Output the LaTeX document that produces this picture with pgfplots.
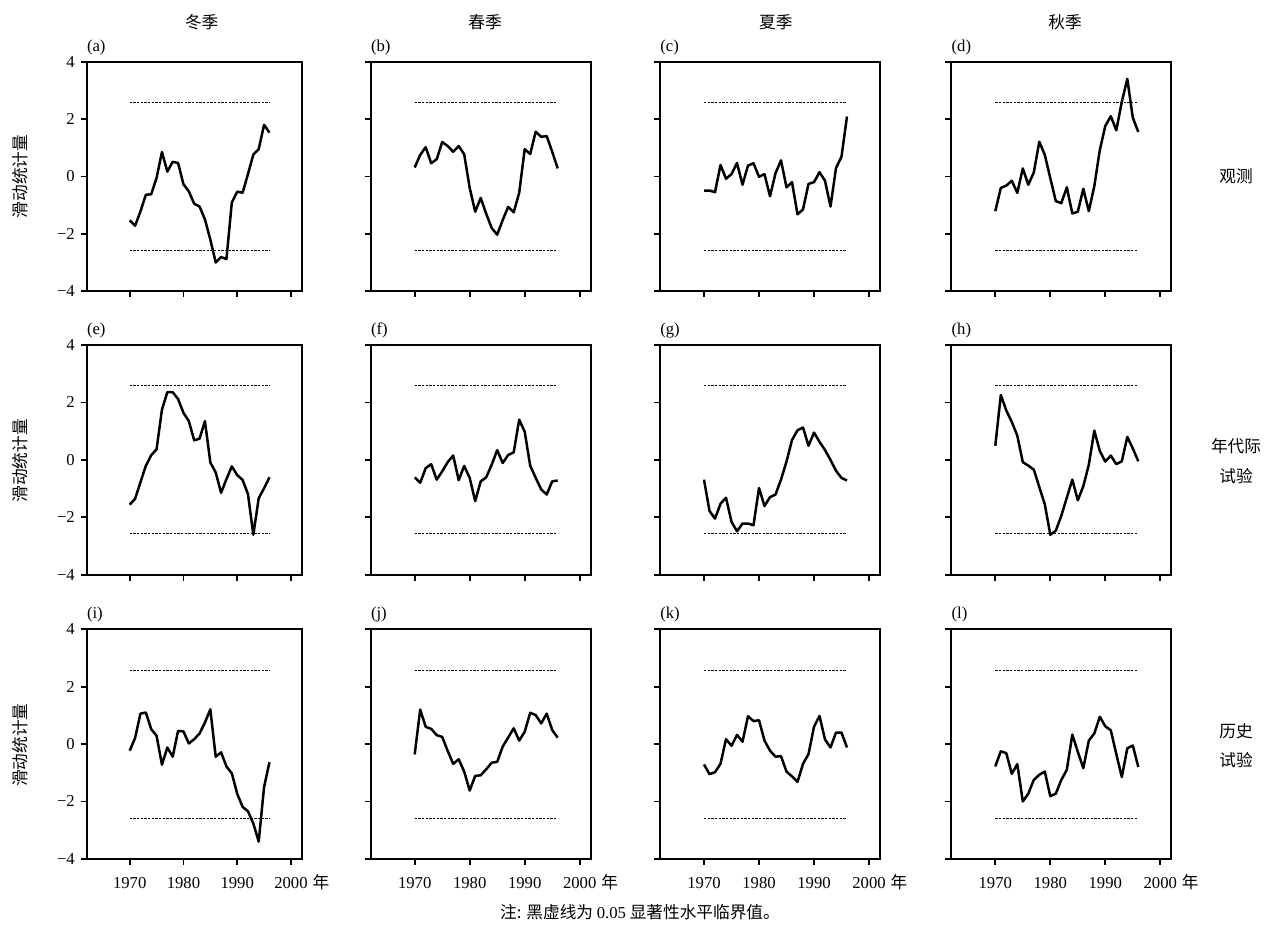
\documentclass[border=0pt]{standalone}
\usepackage{fontspec}
\setmainfont{Liberation Serif}
\newfontfamily\cjk{Noto Sans CJK SC}
\usepackage{pgfplots}
\usepackage{pgfplotstable}
\pgfplotsset{compat=1.18}

\pgfplotstableread{
year a b c d e f g h i j k l
1970 -1.53 0.31 -0.49 -1.21 -1.56 -0.61 -0.69 0.49 -0.23 -0.36 -0.71 -0.78
1971 -1.72 0.75 -0.49 -0.40 -1.36 -0.80 -1.78 2.26 0.21 1.20 -1.05 -0.25
1972 -1.22 1.02 -0.55 -0.32 -0.78 -0.29 -2.05 1.72 1.06 0.60 -0.98 -0.32
1973 -0.64 0.46 0.40 -0.15 -0.21 -0.15 -1.53 1.32 1.10 0.53 -0.69 -1.04
1974 -0.62 0.60 -0.08 -0.57 0.16 -0.69 -1.32 0.84 0.52 0.31 0.17 -0.70
1975 -0.05 1.20 0.08 0.28 0.37 -0.40 -2.16 -0.08 0.29 0.25 -0.06 -2.00
1976 0.85 1.06 0.47 -0.29 1.75 -0.08 -2.49 -0.20 -0.72 -0.24 0.32 -1.73
1977 0.17 0.86 -0.29 0.14 2.36 0.15 -2.22 -0.34 -0.12 -0.69 0.08 -1.25
1978 0.51 1.06 0.38 1.21 2.36 -0.71 -2.22 -0.95 -0.44 -0.53 0.97 -1.07
1979 0.47 0.77 0.46 0.75 2.12 -0.21 -2.28 -1.55 0.46 -0.96 0.80 -0.96
1980 -0.27 -0.40 -0.01 -0.06 1.64 -0.63 -0.98 -2.61 0.44 -1.62 0.83 -1.82
1981 -0.52 -1.23 0.08 -0.86 1.35 -1.44 -1.61 -2.47 0.02 -1.11 0.12 -1.73
1982 -0.95 -0.75 -0.69 -0.93 0.68 -0.75 -1.30 -1.95 0.17 -1.09 -0.23 -1.25
1983 -1.05 -1.30 0.11 -0.38 0.74 -0.61 -1.21 -1.32 0.37 -0.88 -0.44 -0.90
1984 -1.50 -1.80 0.56 -1.29 1.35 -0.17 -0.69 -0.69 0.75 -0.65 -0.42 0.33
1985 -2.20 -2.03 -0.38 -1.23 -0.09 0.34 -0.06 -1.41 1.21 -0.62 -0.96 -0.27
1986 -3.00 -1.52 -0.20 -0.43 -0.44 -0.11 0.69 -0.92 -0.44 -0.09 -1.13 -0.84
1987 -2.81 -1.06 -1.32 -1.21 -1.15 0.17 1.03 -0.17 -0.29 0.23 -1.32 0.12
1988 -2.88 -1.25 -1.15 -0.34 -0.67 0.26 1.13 1.02 -0.78 0.55 -0.69 0.37
1989 -0.91 -0.57 -0.26 0.92 -0.23 1.40 0.49 0.31 -1.02 0.12 -0.35 0.95
1990 -0.53 0.95 -0.20 1.76 -0.53 0.98 0.95 -0.06 -1.73 0.43 0.60 0.62
1991 -0.57 0.78 0.15 2.10 -0.70 -0.20 0.63 0.15 -2.19 1.09 0.98 0.48
1992 0.08 1.56 -0.15 1.61 -1.19 -0.63 0.34 -0.15 -2.34 1.01 0.16 -0.35
1993 0.76 1.38 -1.05 2.60 -2.61 -1.03 0.00 -0.05 -2.77 0.72 -0.12 -1.15
1994 0.95 1.41 0.29 3.40 -1.34 -1.21 -0.38 0.80 -3.40 1.06 0.40 -0.15
1995 1.80 0.86 0.69 2.05 -0.99 -0.75 -0.63 0.40 -1.50 0.49 0.40 -0.05
1996 1.53 0.28 2.09 1.55 -0.61 -0.72 -0.72 -0.05 -0.63 0.22 -0.12 -0.80
}\data

\pgfplotsset{
  panel/.style={
    scale only axis, height=137.7pt, anchor=north west,
    xmin=1962, xmax=2002, ymin=-4, ymax=4,
    xtick={1970,1980,1990,2000}, ytick={-4,-2,0,2,4},
    xticklabels={}, yticklabels={},
    tick align=outside, tick pos=left, major tick length=3.6pt,
    axis line style={line width=1.1pt},
    major tick style={line width=1.1pt, black},
    every tick label/.append style={font=\fontsize{10}{12}\selectfont},
    every x tick label/.append style={yshift=-4pt},
    clip=false,
  },
  ylab/.style={yticklabels={−4,−2,0,2,4}},
  xlab/.style={xticklabels={1970,1980,1990,{2000\rlap{\hspace{3pt}\smash{\cjk 年}}}}},
}

\newcommand\panel[6]{%
\begin{axis}[panel, at={(#1,#2)}, width=#3, #6]
\addplot[black, line width=1.5pt, line join=round] table[x=year, y=#4]{\data};
\addplot[black, line width=0.6pt, dash pattern=on 1.4pt off 0.8pt] coordinates {(1970,2.58) (1996,2.58)};
\addplot[black, line width=0.6pt, dash pattern=on 1.4pt off 0.8pt] coordinates {(1970,-2.58) (1996,-2.58)};
\node[anchor=south west, inner sep=0pt, yshift=4pt, font=\fontsize{10}{12}\selectfont] at (rel axis cs:0,1) {(#5)};
\end{axis}}

\begin{document}
\begin{tikzpicture}
\path (0,0) rectangle (768.6pt,-561.6pt);

\panel{52.02pt}{-37.02pt}{129pt}{a}{a}{ylab}
\panel{222.42pt}{-37.02pt}{132pt}{b}{b}{}
\panel{396pt}{-37.02pt}{132pt}{c}{c}{}
\panel{570.78pt}{-37.02pt}{132pt}{d}{d}{}

\panel{52.02pt}{-207.06pt}{129pt}{e}{e}{ylab}
\panel{222.42pt}{-207.06pt}{132pt}{f}{f}{}
\panel{396pt}{-207.06pt}{132pt}{g}{g}{}
\panel{570.78pt}{-207.06pt}{132pt}{h}{h}{}

\panel{52.02pt}{-377.58pt}{129pt}{i}{i}{ylab,xlab}
\panel{222.42pt}{-377.58pt}{132pt}{j}{j}{xlab}
\panel{396pt}{-377.58pt}{132pt}{k}{k}{xlab}
\panel{570.78pt}{-377.58pt}{132pt}{l}{l}{xlab}

\begin{scope}[every node/.style={font=\cjk\fontsize{10}{17.7}\selectfont, inner sep=0pt}]
\node at (121pt,-13.2pt) {冬季};
\node at (291pt,-13.2pt) {春季};
\node at (465.5pt,-13.2pt) {夏季};
\node at (639pt,-13.2pt) {秋季};

\node[rotate=90] at (12pt,-106pt) {滑动统计量};
\node[rotate=90] at (12pt,-276.4pt) {滑动统计量};
\node[rotate=90] at (12pt,-447pt) {滑动统计量};

\node at (741.6pt,-105.6pt) {观测};
\node[align=center] at (741.6pt,-276.6pt) {年代际\\试验};
\node[align=center] at (741.6pt,-447.3pt) {历史\\试验};

\node at (384pt,-547.2pt) {注: 黑虚线为 {\rmfamily 0.05} 显著性水平临界值。};
\end{scope}
\end{tikzpicture}
\end{document}
